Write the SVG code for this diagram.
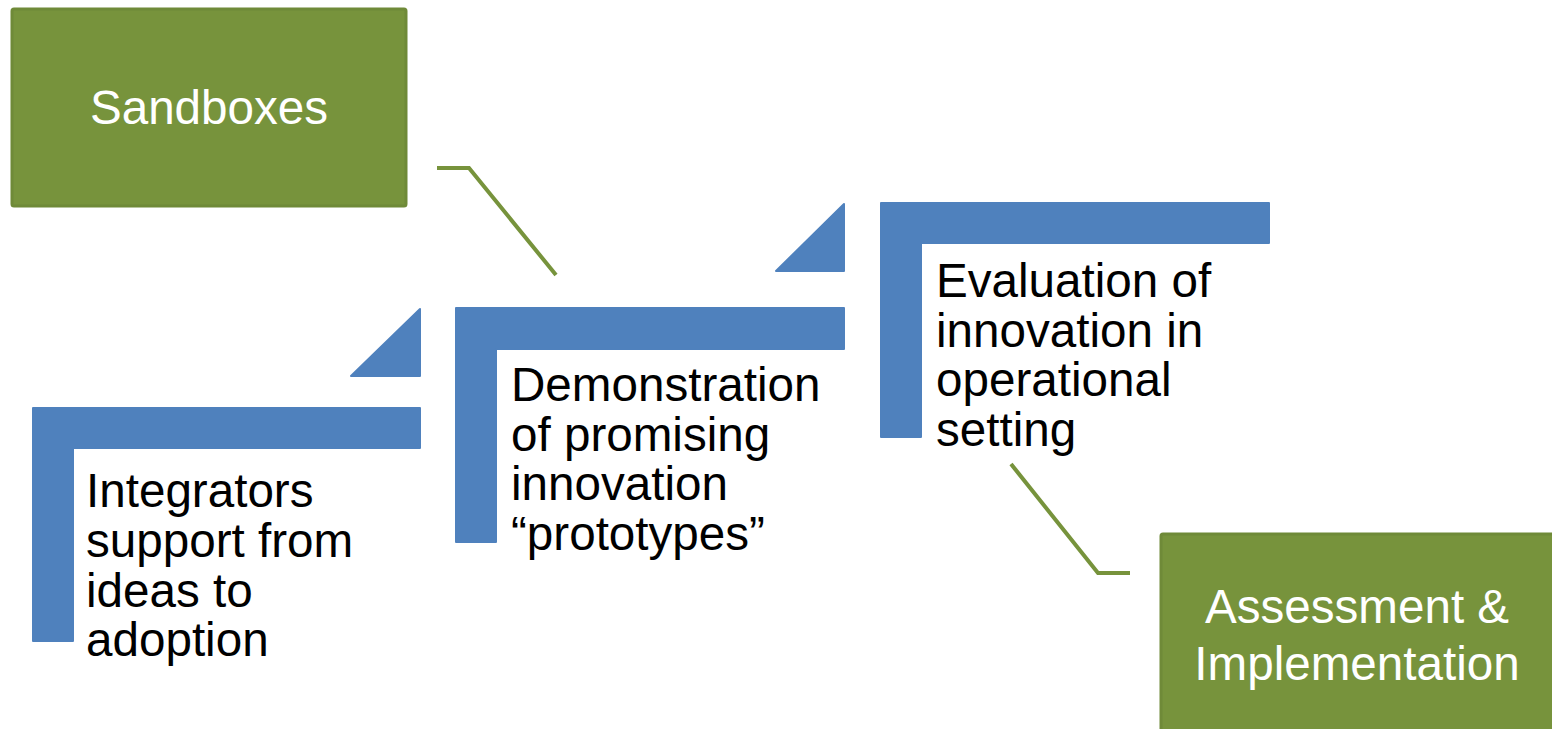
<svg xmlns="http://www.w3.org/2000/svg" width="1552" height="729" viewBox="0 0 1552 729">
<style>
.blue{fill:#4f81bd;stroke:#4f81bd;stroke-width:2;stroke-linejoin:round}
.gbox{fill:#77933c;stroke:#6f8a38;stroke-width:3}
.conn{fill:none;stroke:#77933c;stroke-width:4}
.t{font-family:"Liberation Sans",Arial,sans-serif;font-size:47.6px;fill:#000}
.w{font-family:"Liberation Sans",Arial,sans-serif;font-size:47.6px;fill:#fff;text-anchor:middle}
</style>
<rect width="1552" height="729" fill="#fff"/>
<g id="connectors">
<polyline class="conn" points="437,168 469,168 556,275"/>
<polyline class="conn" points="1011,464 1098,573 1130,573"/>
</g>
<g id="sandboxes">
<rect class="gbox" x="12" y="9" width="394" height="197" rx="2"/>
<text class="w" x="209" y="124">Sandboxes</text>
</g>
<g id="integrators">
<path class="blue" d="M33,408 H420 V448 H73 V641 H33 Z"/>
<polygon class="blue" points="351,376 420,309 420,376"/>
<text class="t"><tspan x="86" y="507">Integrators</tspan><tspan x="86" y="557">support from</tspan><tspan x="86" y="607">ideas to</tspan><tspan x="86" y="656">adoption</tspan></text>
</g>
<g id="demonstration">
<path class="blue" d="M456,308 H844 V349 H496 V542 H456 Z"/>
<polygon class="blue" points="776,271 844,204 844,271"/>
<text class="t"><tspan x="511" y="401">Demonstration</tspan><tspan x="511" y="451">of promising</tspan><tspan x="511" y="500">innovation</tspan><tspan x="511" y="550">“prototypes”</tspan></text>
</g>
<g id="evaluation">
<path class="blue" d="M881,203 H1269 V243 H921 V437 H881 Z"/>
<text class="t"><tspan x="936" y="297">Evaluation of</tspan><tspan x="936" y="347">innovation in</tspan><tspan x="936" y="396">operational</tspan><tspan x="936" y="446">setting</tspan></text>
</g>
<g id="assessment">
<rect class="gbox" x="1161" y="534" width="400" height="205" rx="2"/>
<text class="w"><tspan x="1357" y="623">Assessment &amp;</tspan><tspan x="1357" y="680">Implementation</tspan></text>
</g>
</svg>
